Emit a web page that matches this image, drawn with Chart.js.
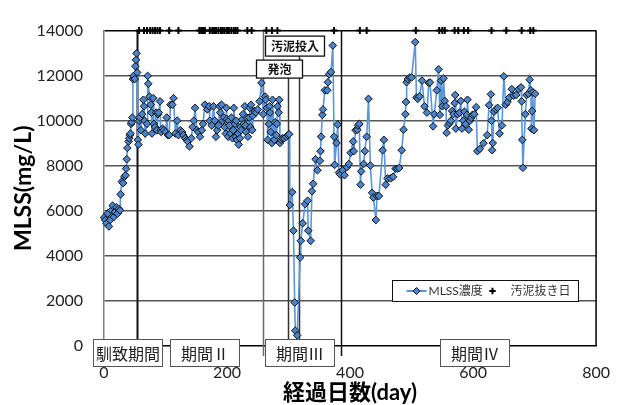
<!DOCTYPE html>
<html>
<head>
<meta charset="utf-8">
<script src="https://cdn.jsdelivr.net/npm/chart.js@4.4.1/dist/chart.umd.min.js"></script>
<style>
  html, body { margin: 0; padding: 0; background: #fff; }
  #wrap { width: 627px; height: 405px; }
</style>
</head>
<body>
<div id="wrap"><canvas id="c" width="627" height="405"></canvas></div>
<script>
// Elapsed days of each MLSS measurement
const days = [
  0,2,4,6,8,10,12,14,16,18,20,22,24,26,27,29,31,33,35,36,37,38,40,41,42,43,44,45,46,47,
  48,50,51,52,53,54,55,56,57,58,60,62,64,65,66,67,70,71,72,74,76,77,78,80,81,83,85,86,88,89,
  91,92,93,95,97,100,102,104,106,108,111,113,116,119,121,124,127,129,132,135,136,139,142,144,146,148,151,153,
  156,159,161,164,168,171,172,175,178,180,182,184,186,188,189,191,193,195,196,198,
  199,200,202,203,204,206,207,209,210,211,213,214,215,216,218,219,221,222,223,225,
  226,227,229,230,231,232,234,236,237,238,239,241,242,245,247,250,253,256,259,262,
  263,265,266,268,269,270,271,273,274,277,278,280,281,282,284,285,286,288,290,293,296,299,301,
  302,306,308,310,311,314,319,320,323,327,331,332,336,338,340,344,347,351,352,353,
  355,356,359,363,364,366,369,372,374,375,378,380,382,384,388,391,395,398,401,405,
  406,409,412,413,415,417,418,422,424,427,430,433,436,438,442,444,447,453,455,458,461,466,470,474,
  477,480,484,487,490,491,492,494,497,500,506,508,510,513,517,521,525,528,530,535,
  537,541,544,546,548,550,552,554,556,557,559,562,564,566,568,570,571,572,575,578,
  580,582,584,586,588,590,591,593,595,597,599,602,605,607,611,617,623,626,629,630,
  631,632,634,637,640,643,647,650,653,656,659,663,666,670,674,678,679,680,681,685,
  687,690,692,694,695,696,697,699,701
];

// MLSS concentration (mg/L) on those days
const mlss = [
  5700,5590,5450,5880,5310,5590,6020,6230,5730,5950,6160,5880,6090,6020,6730,7300,7230,7510,7580,7870,8290,8790,9080,9220,9360,9430,9860,9930,10140,11850,
  11990,11850,12420,12700,12990,12140,9150,8940,10000,10140,9580,10290,10930,10640,10000,9430,9860,11990,11640,11070,10710,10360,9430,11000,9860,9720,10360,9580,10290,10360,
  10860,9580,9500,9650,9580,9500,10140,9360,9360,10710,10710,11000,9430,10000,9360,9580,9500,9360,9220,9150,9080,8860,9220,9720,10000,10570,9580,9500,
  9290,9580,9860,10710,10500,10640,10000,9790,10640,10000,9290,9580,9790,10640,10360,10710,10000,10140,9720,9430,
  10570,10070,9290,10000,9790,9430,10140,9220,9580,10570,9860,9290,10000,9150,9430,8940,9220,9720,9580,10070,
  10290,9860,10640,9790,9500,10140,9290,10140,10570,9720,10710,9580,10220,10430,10360,10500,10860,11680,10290,11070,
  10930,10570,9150,9860,10640,10360,9500,9010,10930,9150,9930,9360,9860,10640,10360,10930,9010,9150,9220,9220,9290,9360,9400,
  6260,6830,5120,1930,680,470,3930,4670,5450,6300,6450,5120,4670,6870,7200,8290,7800,8220,8650,9290,
  10260,10500,11350,11350,11710,12060,12160,13340,9290,8040,9010,9830,7700,7610,7800,7580,7940,8080,8580,9080,
  8650,9580,9600,9790,9860,7160,7750,8080,8650,9290,10970,8010,6800,6590,5590,6660,6660,8690,9150,7160,7440,7440,7510,7870,
  7870,7900,8690,9600,10290,10830,11710,11850,11920,11920,13490,11030,10970,11080,11780,10640,10360,11680,11700,9750,
  10290,11350,12280,10260,11780,10640,11880,10880,10640,9460,9790,9890,10000,10430,10290,10780,11140,9650,10290,10360,
  10880,9650,10000,10400,9850,10260,10930,9600,10000,10120,10260,10290,10600,8650,8750,9000,9360,10690,11170,10000,
  8690,9010,10400,10500,10570,9430,9790,11970,10710,10830,11030,11400,11110,11140,11400,11480,10860,9150,7910,10290,
  11140,11200,11820,11350,9650,10430,11250,9580,11200
];

// Days on which sludge was withdrawn
const withdrawalDays = [
  57,65,70,75,79,83,87,91,106,121,155,158,161,164,172,176,179,182,186,190,
  193,196,200,203,207,211,214,217,233,240,264,273,282,374,416,427,507,545,550,554,
  570,576,585,592,630,654,679,693,698
];
const withdrawalMarkLevel = 14000;   // withdrawal marks sit on the top edge

// Phase boundaries (days)
const boundaryDays = [54, 259, 386];

// Axis ticks
const xTicks = [0, 200, 400, 600, 800];
const yTicks = [0, 2000, 4000, 6000, 8000, 10000, 12000, 14000];

// Phase names shown under the axis
const phaseNames = ['馴致期間', '期間Ⅱ', '期間Ⅲ', '期間Ⅳ'];
const phaseMidDays = [38, 163, 318, 602];

// Event notes: label, the day the event line is drawn at
const eventNames = ['汚泥投入', '発泡'];
const eventDays = [317, 299];

const LINE_BLUE = '#5b95dc';
const MARK_BLUE = '#4a84cc';
const CJK = "'Noto Sans CJK JP'";
const LATIN = "Lato, 'Noto Sans CJK JP', sans-serif";

const overlay = {
  id: 'overlay',
  beforeDatasetsDraw(chart) {
    const { ctx, chartArea: a, scales: { x } } = chart;
    ctx.save();
    // right side of the plot frame
    ctx.strokeStyle = '#000';
    ctx.lineWidth = 1.5;
    ctx.beginPath();
    ctx.moveTo(a.right, a.top);
    ctx.lineTo(a.right, a.bottom);
    ctx.stroke();

    // phase boundary lines
    const boundaryLook = [
      { color: '#111', width: 2 },
      { color: '#6a6a6a', width: 1.5 },
      { color: '#111', width: 1.5 }
    ];
    boundaryDays.forEach((d, i) => {
      const px = Math.round(x.getPixelForValue(d)) + 0.5;
      ctx.strokeStyle = boundaryLook[i].color;
      ctx.lineWidth = boundaryLook[i].width;
      ctx.beginPath();
      ctx.moveTo(px, a.top);
      ctx.lineTo(px, a.bottom + 10);
      ctx.stroke();
    });

    // event lines, hanging from their note boxes
    const noteBottoms = [a.top + 25, a.top + 47];
    eventDays.forEach((d, i) => {
      const px = Math.round(x.getPixelForValue(d)) + 0.5;
      ctx.strokeStyle = '#333';
      ctx.lineWidth = 1.5;
      ctx.beginPath();
      ctx.moveTo(px, noteBottoms[i]);
      ctx.lineTo(px, a.bottom);
      ctx.stroke();
    });
    ctx.restore();
  },
  afterDraw(chart) {
    const { ctx, chartArea: a, scales: { x } } = chart;
    ctx.save();

    // event notes
    const notes = [
      { cx: x.getPixelForValue(eventDays[0]) - 4, top: a.top + 5, w: 59, h: 20 },
      { cx: x.getPixelForValue(eventDays[1]) - 8.5, top: a.top + 29, w: 46, h: 18 }
    ];
    notes.forEach((n, i) => {
      const left = Math.round(n.cx - n.w / 2) + 0.5;
      ctx.fillStyle = '#fff';
      ctx.fillRect(left, n.top + 0.5, n.w, n.h);
      ctx.strokeStyle = '#111';
      ctx.lineWidth = 1.3;
      ctx.strokeRect(left, n.top + 0.5, n.w, n.h);
      ctx.fillStyle = '#111';
      ctx.font = `bold 12px ${CJK}`;
      ctx.textAlign = 'center';
      ctx.textBaseline = 'middle';
      ctx.fillText(eventNames[i], left + n.w / 2, n.top + n.h / 2 + 1);
    });

    // phase labels across the bottom axis
    phaseNames.forEach((name, i) => {
      const cx = x.getPixelForValue(phaseMidDays[i]);
      const w = 69, h = 27;
      const left = Math.round(cx - w / 2) + 0.5;
      const top = Math.round(a.bottom - 7) + 0.5;
      ctx.fillStyle = '#fff';
      ctx.fillRect(left, top, w, h);
      ctx.strokeStyle = '#555';
      ctx.lineWidth = 1;
      ctx.strokeRect(left, top, w, h);
      ctx.fillStyle = '#222';
      ctx.font = `16px ${CJK}`;
      ctx.textAlign = 'center';
      ctx.textBaseline = 'middle';
      ctx.fillText(name, left + w / 2, top + h / 2 + 1);
    });

    // legend
    const lx = Math.round(a.right - 204) + 0.5;
    const ly = Math.round(a.top + 249) + 0.5;
    const lw = 186, lh = 21;
    const my = ly + lh / 2;
    ctx.fillStyle = '#fff';
    ctx.fillRect(lx, ly, lw, lh);
    ctx.strokeStyle = '#111';
    ctx.lineWidth = 1;
    ctx.strokeRect(lx, ly, lw, lh);

    ctx.strokeStyle = LINE_BLUE;
    ctx.lineWidth = 2;
    ctx.beginPath();
    ctx.moveTo(lx + 14, my);
    ctx.lineTo(lx + 34, my);
    ctx.stroke();
    ctx.fillStyle = MARK_BLUE;
    ctx.strokeStyle = '#111';
    ctx.lineWidth = 1;
    Chart.helpers.drawPoint(ctx, { pointStyle: 'rectRot', radius: 3.5, borderWidth: 1, rotation: 0 }, lx + 24, my);

    ctx.fillStyle = '#333';
    ctx.font = `12px ${LATIN}`;
    ctx.textAlign = 'left';
    ctx.textBaseline = 'middle';
    ctx.fillText('MLSS濃度', lx + 36, my + 0.5);

    ctx.strokeStyle = '#000';
    ctx.lineWidth = 2;
    Chart.helpers.drawPoint(ctx, { pointStyle: 'cross', radius: 3.2, borderWidth: 2, rotation: 0 }, lx + 100, my);
    ctx.fillStyle = '#333';
    ctx.fillText('汚泥抜き日', lx + 118, my + 0.5);

    ctx.restore();
  }
};

new Chart(document.getElementById('c').getContext('2d'), {
  type: 'scatter',
  data: {
    datasets: [
      {
        label: '汚泥抜き日',
        data: withdrawalDays.map(d => ({ x: d, y: withdrawalMarkLevel })),
        pointStyle: 'cross',
        pointRadius: 3.5,
        pointBorderColor: '#000',
        pointBorderWidth: 2,
        showLine: false,
        clip: false,
        order: 0
      },
      {
        label: 'MLSS濃度',
        data: days.map((d, i) => ({ x: d, y: mlss[i] })),
        showLine: true,
        borderColor: LINE_BLUE,
        borderWidth: 1.6,
        pointStyle: 'rectRot',
        pointRadius: 3.8,
        pointBackgroundColor: MARK_BLUE,
        pointBorderColor: '#111',
        pointBorderWidth: 1,
        clip: false,
        order: 1
      }
    ]
  },
  options: {
    responsive: false,
    animation: false,
    devicePixelRatio: 1,
    layout: { padding: { top: 18, right: 26, bottom: 0, left: 0 } },
    plugins: { legend: { display: false }, tooltip: { enabled: false } },
    scales: {
      x: {
        type: 'linear',
        min: 0,
        max: 800,
        afterFit(s) { s.height = 59; },
        afterBuildTicks(s) { s.ticks = xTicks.map(v => ({ value: v })); },
        ticks: {
          padding: 17,
          color: '#222',
          font: { family: LATIN, size: 16 },
          callback: v => String(v)
        },
        grid: { display: false, drawTicks: false },
        border: { display: true, color: '#000', width: 1.5 },
        title: {
          display: true,
          text: '経過日数(day)',
          color: '#000',
          font: { family: LATIN, size: 22, weight: 'bold' },
          padding: { top: 0, bottom: -1 }
        }
      },
      y: {
        min: 0,
        max: 14000,
        afterFit(s) { s.width = 104; },
        afterBuildTicks(s) { s.ticks = yTicks.map(v => ({ value: v })); },
        ticks: {
          padding: 21,
          color: '#222',
          font: { family: LATIN, size: 16 },
          callback: v => String(v)
        },
        grid: {
          drawTicks: false,
          lineWidth: 1.5,
          color: c => (c.tick && c.tick.value === 14000) ? '#000' : (c.tick && c.tick.value === 0 ? 'rgba(0,0,0,0)' : '#555')
        },
        border: { display: true, color: '#808080', width: 1.5 },
        title: {
          display: true,
          text: 'MLSS(mg/L)',
          color: '#000',
          font: { family: LATIN, size: 23, weight: 'bold' },
          padding: { top: 10, bottom: 0 }
        }
      }
    }
  },
  plugins: [overlay]
});
</script>
</body>
</html>
